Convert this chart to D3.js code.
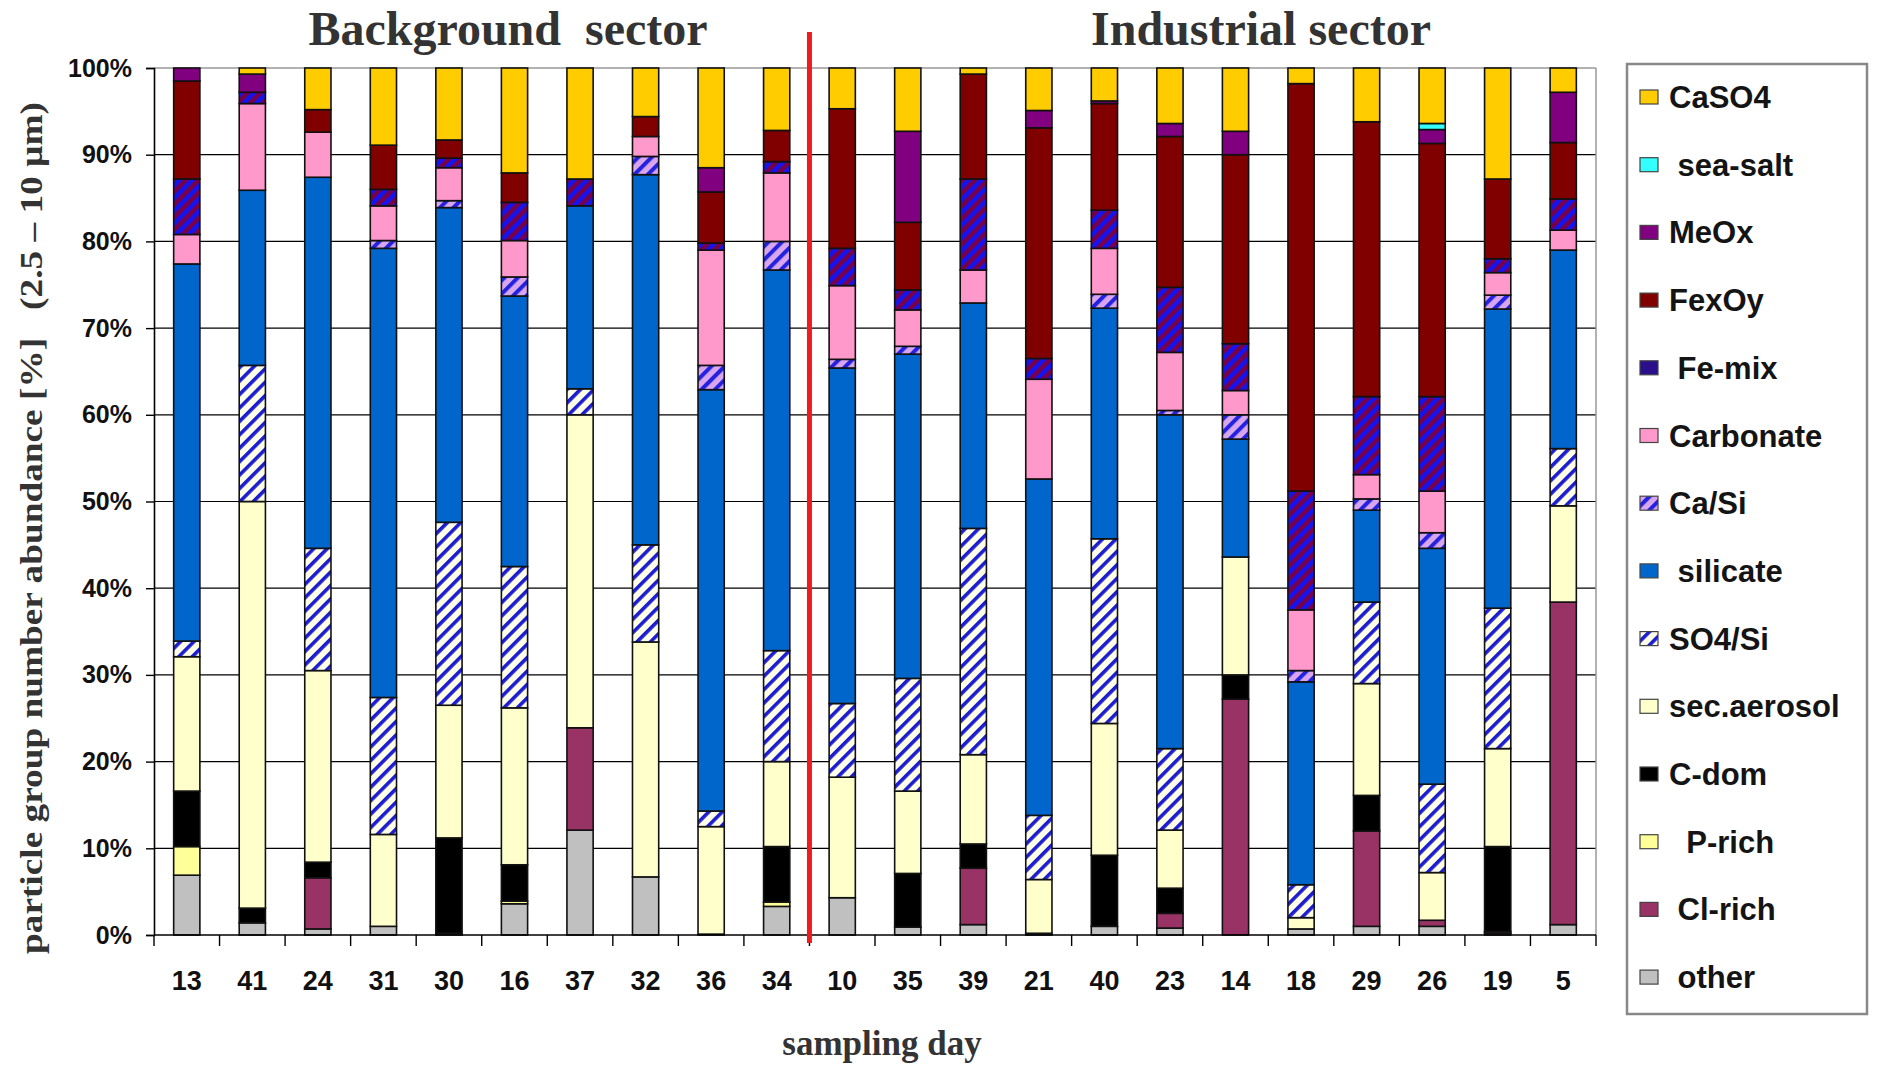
<!DOCTYPE html>
<html>
<head>
<meta charset="utf-8">
<script src="https://cdn.jsdelivr.net/npm/d3@7"></script>
<style>
  body { margin: 0; background: #fff; }
  svg text { font-family: "Liberation Sans", Arial, sans-serif; }
  .serif { font-family: "Liberation Serif", "Times New Roman", serif !important; font-weight: bold; fill: #333; }
</style>
</head>
<body>
<svg id="chart"></svg>
<script>
// sampling days in plotted order (first 10 = background, rest = industrial)
var days = ["13","41","24","31","30","16","37","32","36","34","10","35","39","21","40","23","14","18","29","26","19","5"];

// particle group abundance [%], stacked bottom -> top
var other      = [6.9,1.4,0.7,1.0,0.2,3.6,12.1,6.7,0.1,3.3,4.3,0.9,1.2,0.2,1.0,0.8,0,0.7,1.0,1.0,0.2,1.2];
var clRich     = [0,0,5.9,0,0,0,11.8,0,0,0,0,0,6.5,0,0,1.7,27.2,0,11.0,0.7,0.2,37.2];
var pRich      = [3.3,0,0,0,0,0.3,0,0,0,0.5,0,0,0,0,0,0,0,0,0,0,0,0];
var cDom       = [6.4,1.7,1.8,0,11.0,4.2,0,0,0,6.4,0,6.2,2.8,0,8.2,2.9,2.8,0,4.1,0,9.8,0];
var secAerosol = [15.5,46.9,22.1,10.6,15.3,18.1,36.1,27.1,12.4,9.8,13.9,9.5,10.3,6.2,15.2,6.7,13.6,1.3,12.9,5.5,11.3,11.1];
var so4Si      = [1.8,15.7,14.1,15.8,21.1,16.3,3.0,11.2,1.8,12.8,8.5,13.0,26.1,7.4,21.3,9.4,0,3.8,9.4,10.2,16.2,6.6];
var silicate   = [43.5,20.2,42.8,51.8,36.3,31.2,21.1,42.7,48.6,43.9,38.7,37.4,26.0,38.8,26.6,38.5,13.6,23.4,10.6,27.2,34.5,22.9];
var caSi       = [0,0,0,0.9,0.8,2.2,0,2.1,2.8,3.3,1.0,0.9,0,0,1.6,0.5,2.8,1.3,1.3,1.8,1.6,0];
var carbonate  = [3.4,10.0,5.2,4.0,3.8,4.2,0,2.3,13.3,7.9,8.5,4.2,3.8,11.5,5.3,6.7,2.8,7.0,2.8,4.8,2.6,2.3];
var feMix      = [6.4,1.3,0,1.9,1.1,4.4,3.1,0,0.8,1.3,4.3,2.3,10.5,2.4,4.4,7.5,5.4,13.7,9.0,10.9,1.6,3.6];
var fexOy      = [11.3,0,2.6,5.1,2.1,3.4,0,2.3,5.9,3.6,16.1,7.8,12.1,26.6,12.3,17.4,21.8,47.0,31.7,29.2,9.2,6.5];
var meOx       = [1.5,2.1,0,0,0,0,0,0,2.8,0,0,10.5,0,2.0,0.3,1.5,2.7,0,0,1.6,0,5.8];
var seaSalt    = [0,0,0,0,0,0,0,0,0,0,0,0,0,0,0,0,0,0,0,0.7,0,0];
var caSO4      = [0,0.7,4.8,8.9,8.3,12.1,12.8,5.6,11.5,7.2,4.7,7.3,0.7,4.9,3.8,6.4,7.3,1.8,6.2,6.4,12.8,2.8];

var groups = ["other","Cl-rich","P-rich","C-dom","sec.aerosol","SO4/Si","silicate","Ca/Si","Carbonate","Fe-mix","FexOy","MeOx","sea-salt","CaSO4"];
var legendLabels = [" other"," Cl-rich","  P-rich","C-dom","sec.aerosol","SO4/Si"," silicate","Ca/Si","Carbonate"," Fe-mix","FexOy","MeOx"," sea-salt","CaSO4"];
var series = [other, clRich, pRich, cDom, secAerosol, so4Si, silicate, caSi, carbonate, feMix, fexOy, meOx, seaSalt, caSO4];
var yTicks = [0,10,20,30,40,50,60,70,80,90,100];

var fills = {
  "other": "#C0C0C0", "Cl-rich": "#993366", "P-rich": "#FFFF99", "C-dom": "#000000",
  "sec.aerosol": "#FFFFCC", "SO4/Si": "url(#hatchSO4)", "silicate": "#0066CC",
  "Ca/Si": "url(#hatchCaSi)", "Carbonate": "#FF99CC", "Fe-mix": "url(#hatchFe)",
  "FexOy": "#800000", "MeOx": "#800080", "sea-salt": "#33FFFF", "CaSO4": "#FFCC00"
};

var W = 1881, H = 1065;
var svg = d3.select("#chart").attr("width", W).attr("height", H);

// hatch patterns
var defs = svg.append("defs");
function hatch(id, bg, fg, period, stroke) {
  var p = defs.append("pattern")
    .attr("id", id)
    .attr("patternUnits", "userSpaceOnUse")
    .attr("width", period).attr("height", period)
    .attr("patternTransform", "rotate(45)");
  p.append("rect").attr("width", period).attr("height", period).attr("fill", bg);
  p.append("rect").attr("width", stroke).attr("height", period).attr("fill", fg);
}
hatch("hatchSO4", "#FFFFE8", "#1C1CD0", 9.5, 3.6);
hatch("hatchCaSi", "#D9A6EE", "#2222E0", 9.5, 4);
hatch("hatchFe", "#76004A", "#1414F0", 9, 4.5);

// table for d3.stack
var table = days.map(function(d, i) {
  var row = { day: d };
  groups.forEach(function(g, k) { row[g] = series[k][i]; });
  return row;
});
var stacked = d3.stack().keys(groups)(table);

var x0 = 154, x1 = 1596, yTop = 68, yBot = 935;
var x = d3.scaleBand().domain(days).range([x0, x1]).padding(0);
var y = d3.scaleLinear().domain([0, 100]).range([yBot, yTop]);
var barW = x.bandwidth() * 0.4;

// gridlines
svg.append("g")
  .selectAll("line")
  .data(yTicks.filter(function(t) { return t > 0 && t < 100; }))
  .enter().append("line")
  .attr("x1", x0).attr("x2", x1)
  .attr("y1", function(d) { return y(d); })
  .attr("y2", function(d) { return y(d); })
  .attr("stroke", "#000").attr("stroke-width", 1.2);

// top & right frame
svg.append("line").attr("x1", x0).attr("x2", x1).attr("y1", y(100)).attr("y2", y(100))
  .attr("stroke", "#999").attr("stroke-width", 1.5);
svg.append("line").attr("x1", x1).attr("x2", x1).attr("y1", y(100)).attr("y2", y(0))
  .attr("stroke", "#999").attr("stroke-width", 1.5);

// bars
svg.append("g")
  .selectAll("g")
  .data(stacked)
  .enter().append("g")
  .attr("fill", function(s) { return fills[s.key]; })
  .selectAll("rect")
  .data(function(s) { return s.filter(function(d) { return d[1] - d[0] > 0; }); })
  .enter().append("rect")
  .attr("x", function(d) { return x(d.data.day) + (x.bandwidth() - barW) / 2; })
  .attr("width", barW)
  .attr("y", function(d) { return y(d[1]); })
  .attr("height", function(d) { return y(d[0]) - y(d[1]); })
  .attr("stroke", "#111").attr("stroke-width", 1.6);

// y axis
var yAxis = svg.append("g")
  .attr("transform", "translate(" + x0 + ",0)")
  .call(d3.axisLeft(y).tickValues(yTicks).tickFormat(function(d) { return d + "%"; }).tickSize(8).tickPadding(14));
yAxis.select(".domain").attr("stroke", "#000").attr("stroke-width", 1.6);
yAxis.selectAll(".tick line").attr("stroke", "#000").attr("stroke-width", 1.4);
yAxis.selectAll("text")
  .attr("fill", "#111")
  .style("font-family", "'Liberation Sans', Arial, sans-serif")
  .style("font-size", "25px").style("font-weight", "bold");

// x axis: baseline, boundary ticks, labels
svg.append("line").attr("x1", x0).attr("x2", x1).attr("y1", yBot).attr("y2", yBot)
  .attr("stroke", "#000").attr("stroke-width", 1.6);
var bounds = days.map(function(d) { return x(d); }).concat([x1]);
svg.append("g").selectAll("line")
  .data(bounds).enter().append("line")
  .attr("x1", function(d) { return d; }).attr("x2", function(d) { return d; })
  .attr("y1", yBot).attr("y2", yBot + 11)
  .attr("stroke", "#000").attr("stroke-width", 1.4);
svg.append("g").selectAll("text")
  .data(days).enter().append("text")
  .attr("x", function(d) { return x(d) + x.bandwidth() / 2; })
  .attr("y", 990)
  .attr("text-anchor", "middle")
  .style("font-size", "27px").style("font-weight", "bold")
  .attr("fill", "#111")
  .text(function(d) { return d; });

// red separator between sectors
svg.append("line")
  .attr("x1", x(days[10])).attr("x2", x(days[10]))
  .attr("y1", 32).attr("y2", 943)
  .attr("stroke", "#EE1C1C").attr("stroke-width", 5);

// titles
svg.append("text").attr("class", "serif")
  .attr("x", 508).attr("y", 45).attr("text-anchor", "middle")
  .style("font-size", "48px").style("white-space", "pre")
  .text("Background  sector");
svg.append("text").attr("class", "serif")
  .attr("x", 1261).attr("y", 45).attr("text-anchor", "middle")
  .style("font-size", "48px")
  .text("Industrial sector");

// axis titles
svg.append("text").attr("class", "serif")
  .attr("transform", "translate(42,528) rotate(-90)")
  .attr("text-anchor", "middle")
  .attr("textLength", 852).attr("lengthAdjust", "spacingAndGlyphs")
  .style("font-size", "31px").style("white-space", "pre")
  .text("particle group number abundance [%]   (2.5 \u2013 10 \u00b5m)");
svg.append("text").attr("class", "serif")
  .attr("x", 882).attr("y", 1055).attr("text-anchor", "middle")
  .style("font-size", "35px")
  .text("sampling day");

// legend
var legend = svg.append("g");
legend.append("rect")
  .attr("x", 1627).attr("y", 64).attr("width", 240).attr("height", 950)
  .attr("fill", "#fff").attr("stroke", "#888").attr("stroke-width", 2.5);
var legendSwatch = {
  "Fe-mix": "#2A0E8C"
};
var items = legend.selectAll(".item")
  .data(groups.slice().reverse())
  .enter().append("g")
  .attr("class", "item")
  .attr("transform", function(d, i) { return "translate(1640," + (97 + i * 67.7) + ")"; });
items.append("rect")
  .attr("x", 0).attr("y", -7).attr("width", 18).attr("height", 14)
  .attr("fill", function(d) { return legendSwatch[d] || fills[d]; })
  .attr("stroke", "#444").attr("stroke-width", 1.2);
items.append("text")
  .attr("x", 29).attr("y", 11)
  .style("font-size", "31px").style("font-weight", "bold").style("white-space", "pre")
  .attr("fill", "#141414")
  .text(function(d) { return legendLabels[groups.indexOf(d)]; });
</script>
</body>
</html>
